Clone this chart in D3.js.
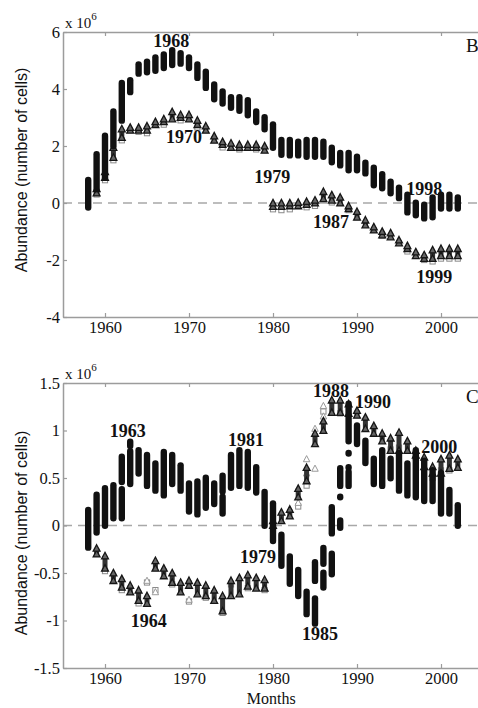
<!DOCTYPE html>
<html>
<head>
<meta charset="utf-8">
<script src="https://cdn.jsdelivr.net/npm/d3@7"></script>
<style>
  body { margin: 0; background: #fff; }
  svg { display: block; }
</style>
</head>
<body>
<div id="chart"></div>
<script>
// Panel B — vertical stacks of monthly values per year, [year, low, high] in 10^6 cells
const circlesB = [
  [1958, -0.15, 0.8], [1959, 0.5, 1.7], [1960, 0.9, 2.35], [1961, 2.0, 3.2], [1962, 2.9, 4.2],
  [1963, 3.9, 4.3], [1964, 4.55, 4.85], [1965, 4.6, 4.95], [1966, 4.65, 5.1], [1967, 4.75, 5.2],
  [1968, 4.85, 5.35], [1969, 4.9, 5.25], [1970, 4.75, 5.1], [1971, 4.4, 4.85], [1972, 4.05, 4.6],
  [1973, 3.65, 4.15], [1974, 3.5, 3.9], [1975, 3.35, 3.7], [1976, 3.25, 3.7], [1977, 3.09, 3.6],
  [1978, 2.85, 3.2], [1979, 2.6, 3.0], [1980, 1.95, 2.75], [1981, 1.7, 2.2], [1982, 1.68, 2.2],
  [1983, 1.68, 2.14], [1984, 1.63, 2.2], [1985, 1.63, 2.2], [1986, 1.63, 2.14], [1987, 1.44, 1.93],
  [1988, 1.33, 1.75], [1989, 1.16, 1.75], [1990, 1.16, 1.61], [1991, 1.05, 1.4], [1992, 0.63, 1.23],
  [1993, 0.53, 1.0], [1994, 0.35, 0.74], [1995, 0.18, 0.53], [1996, -0.32, 0.28], [1997, -0.42, 0.0],
  [1998, -0.53, -0.07], [1999, -0.49, 0.18], [2000, -0.18, 0.28], [2001, -0.18, 0.28], [2002, -0.18, 0.18]
];
const trianglesB = [
  [1959, 0.35, 0.5], [1960, 0.9, 1.1], [1961, 1.6, 1.95], [1962, 2.3, 2.6], [1963, 2.55, 2.65],
  [1964, 2.55, 2.65], [1965, 2.55, 2.7], [1966, 2.75, 2.85], [1967, 2.85, 2.95], [1968, 2.95, 3.2],
  [1969, 3.0, 3.1], [1970, 2.95, 3.1], [1971, 2.75, 2.9], [1972, 2.55, 2.7], [1973, 2.2, 2.35],
  [1974, 2.05, 2.15], [1975, 1.95, 2.1], [1976, 1.95, 2.05], [1977, 1.95, 2.05], [1978, 1.95, 2.05],
  [1979, 1.85, 2.0], [1980, -0.12, 0.0], [1981, -0.12, 0.0], [1982, -0.1, 0.0], [1983, -0.1, 0.02],
  [1984, -0.05, 0.05], [1985, 0.0, 0.1], [1986, 0.15, 0.4], [1987, 0.1, 0.28], [1988, 0.0, 0.2],
  [1989, -0.2, -0.1], [1990, -0.5, -0.3], [1991, -0.77, -0.6], [1992, -0.95, -0.84], [1993, -1.12, -1.0],
  [1994, -1.19, -1.05], [1995, -1.4, -1.3], [1996, -1.6, -1.5], [1997, -1.85, -1.72], [1998, -1.95, -1.82],
  [1999, -1.95, -1.65], [2000, -1.85, -1.6], [2001, -1.85, -1.6], [2002, -1.85, -1.6]
];
const squaresB = [
  [1959, 0.3], [1960, 0.8], [1961, 1.5], [1962, 2.2], [1964, 2.5], [1965, 2.45], [1967, 2.75],
  [1969, 2.9], [1971, 2.65], [1974, 1.95], [1976, 1.88], [1978, 1.88], [1980, -0.22], [1981, -0.25],
  [1982, -0.22], [1984, -0.15], [1985, -0.1], [1987, 0.02], [1989, -0.25], [1993, -1.15],
  [1996, -1.7], [1998, -2.0], [1999, -2.05], [2000, -1.95], [2001, -1.95], [2002, -1.95]
];
const notesB = [
  ["1968", 1967.9, 5.47], ["1970", 1969.4, 2.1], ["1979", 1979.9, 0.7],
  ["1998", 1998.0, 0.28], ["1987", 1986.9, -0.88], ["1999", 1999.2, -2.8]
];

// Panel C
const circlesC = [
  [1958, -0.23, 0.16], [1959, -0.07, 0.32], [1960, 0.0, 0.39], [1961, 0.08, 0.42],
  [1962, 0.08, 0.38], [1962, 0.46, 0.72], [1963, 0.44, 0.78], [1963, 0.84, 0.88],
  [1964, 0.55, 0.79], [1965, 0.42, 0.74], [1966, 0.37, 0.65], [1967, 0.32, 0.77],
  [1968, 0.44, 0.74], [1969, 0.37, 0.63], [1970, 0.15, 0.44], [1971, 0.12, 0.46],
  [1972, 0.19, 0.5], [1973, 0.23, 0.44], [1974, 0.13, 0.3], [1974, 0.36, 0.52],
  [1975, 0.4, 0.74], [1976, 0.42, 0.79], [1977, 0.4, 0.77], [1978, 0.35, 0.61],
  [1979, 0.0, 0.35], [1980, -0.16, 0.23], [1981, -0.42, -0.1], [1982, -0.61, -0.33],
  [1983, -0.74, -0.47], [1984, -0.93, -0.7], [1985, -1.03, -0.77], [1985, -0.58, -0.39],
  [1986, -0.65, -0.5], [1986, -0.4, -0.24], [1987, -0.51, -0.3], [1987, -0.08, 0.19],
  [1988, -0.02, 0.05], [1988, 0.3, 0.3], [1988, 0.42, 0.6], [1989, 0.42, 0.56],
  [1989, 0.61, 0.61], [1989, 0.76, 0.76], [1989, 0.89, 1.28], [1990, 0.86, 1.05],
  [1991, 0.66, 0.89], [1992, 0.44, 0.7], [1993, 0.42, 0.79], [1994, 0.5, 0.7],
  [1995, 0.37, 0.76], [1996, 0.32, 0.65], [1997, 0.3, 0.79], [1998, 0.26, 0.68],
  [1999, 0.26, 0.58], [2000, 0.13, 0.55], [2001, 0.13, 0.37], [2002, 0.0, 0.21]
];
const trianglesC = [
  [1959, -0.3, -0.24], [1960, -0.45, -0.32], [1961, -0.58, -0.5], [1962, -0.65, -0.56],
  [1963, -0.7, -0.63], [1964, -0.79, -0.68], [1965, -0.82, -0.74], [1966, -0.45, -0.37],
  [1967, -0.53, -0.45], [1968, -0.6, -0.5], [1969, -0.7, -0.6], [1970, -0.63, -0.58],
  [1971, -0.72, -0.6], [1972, -0.74, -0.63], [1973, -0.79, -0.68], [1974, -0.9, -0.74],
  [1975, -0.74, -0.58], [1976, -0.72, -0.55], [1977, -0.64, -0.52], [1978, -0.66, -0.55],
  [1979, -0.66, -0.57], [1980, 0.0, 0.05], [1981, 0.05, 0.14], [1982, 0.1, 0.17],
  [1983, 0.3, 0.39], [1984, 0.47, 0.61], [1985, 0.86, 0.97], [1986, 1.0, 1.1],
  [1987, 1.19, 1.32], [1988, 1.19, 1.32], [1989, 1.18, 1.28], [1990, 1.16, 1.21],
  [1991, 1.02, 1.14], [1992, 0.97, 1.05], [1993, 0.89, 0.97], [1994, 0.79, 0.92],
  [1995, 0.79, 0.98], [1996, 0.79, 0.89], [1997, 0.74, 0.79], [1998, 0.62, 0.72],
  [1999, 0.55, 0.62], [2000, 0.55, 0.7], [2001, 0.6, 0.74], [2002, 0.61, 0.7]
];
const squaresC = [
  [1960, -0.48], [1962, -0.68], [1964, -0.82], [1965, -0.6], [1966, -0.68], [1968, -0.62],
  [1970, -0.8], [1972, -0.76], [1974, -0.92], [1975, -0.62], [1977, -0.66], [1979, -0.68],
  [1983, 0.2], [1984, 0.42], [1986, 1.2], [1988, 1.18], [1994, 0.8], [1995, 0.82],
  [1997, 0.72], [1999, 0.5], [2000, 0.58], [2001, 0.58]
];
const openTrianglesC = [
  [1965, -0.58], [1966, -0.7], [1970, -0.78], [1983, 0.24], [1984, 0.7], [1984, 0.55],
  [1985, 1.02], [1986, 1.26], [1986, 1.15], [1985, 0.6]
];
const notesC = [
  ["1963", 1962.7, 0.93], ["1981", 1976.8, 0.84], ["1988", 1986.9, 1.35], ["1990", 1991.9, 1.24],
  ["2000", 1999.8, 0.76], ["1964", 1965.2, -1.07], ["1979", 1978.2, -0.39], ["1985", 1985.6, -1.21]
];

const xTicks = [1960, 1970, 1980, 1990, 2000];
const yTicksB = [-4, -2, 0, 2, 4, 6];
const yTicksC = [-1.5, -1, -0.5, 0, 0.5, 1, 1.5];

const W = 478, H = 708;
const serif = '"Liberation Serif", "DejaVu Serif", serif';
const sans = '"Liberation Sans", Arial, sans-serif';
const axisGrey = '#9c9c9c';

const svg = d3.select('#chart').append('svg')
  .attr('width', W)
  .attr('height', H);

const x = d3.scaleLinear().domain([1955, 2005]).range([63, 483]);

function triPath(s) {
  return `M0,${-s}L${s * 0.95},${s * 0.8}L${-s * 0.95},${s * 0.8}Z`;
}

function drawPanel(opts) {
  const y = d3.scaleLinear().domain(opts.domain).range([opts.bottom, opts.top]);
  const g = svg.append('g');

  // zero reference line
  g.append('line')
    .attr('x1', x.range()[0]).attr('x2', W)
    .attr('y1', y(0)).attr('y2', y(0))
    .attr('stroke', '#a8a8a8')
    .attr('stroke-width', 1.4)
    .attr('stroke-dasharray', '9,6');

  // axes
  const styleAxis = sel => {
    sel.select('.domain').attr('stroke', axisGrey).attr('stroke-width', 1.5);
    sel.selectAll('.tick line').attr('stroke', axisGrey).attr('stroke-width', 1.2);
    sel.selectAll('.tick text').attr('fill', '#111').style('font-family', serif).style('font-size', '16.5px');
  };

  g.append('g')
    .attr('transform', `translate(0,${opts.bottom})`)
    .call(d3.axisBottom(x).tickValues(xTicks).tickFormat(String).tickSizeInner(-4).tickSizeOuter(0).tickPadding(4))
    .call(styleAxis);

  g.append('g')
    .attr('transform', `translate(0,${opts.top})`)
    .call(d3.axisTop(x).tickValues(xTicks).tickFormat('').tickSizeInner(-4).tickSizeOuter(0))
    .call(styleAxis);

  g.append('g')
    .attr('transform', `translate(${x.range()[0]},0)`)
    .call(d3.axisLeft(y).tickValues(opts.yTicks).tickFormat(String).tickSizeInner(-4).tickSizeOuter(0).tickPadding(3))
    .call(styleAxis);

  // exponent
  const ex = g.append('text')
    .attr('x', x.range()[0] + 2)
    .attr('y', opts.top - 4)
    .style('font-family', serif)
    .style('font-size', '15px')
    .attr('fill', '#111');
  ex.append('tspan').text('x 10');
  ex.append('tspan').attr('dy', -8).style('font-size', '11px').text('6');

  // y label
  g.append('text')
    .attr('transform', `translate(27,${opts.labelY}) rotate(-90)`)
    .attr('text-anchor', 'middle')
    .style('font-family', sans)
    .style('font-size', '16px')
    .attr('fill', '#111')
    .text('Abundance (number of cells)');

  // panel letter
  g.append('text')
    .attr('x', 466)
    .attr('y', opts.top + 20)
    .style('font-family', serif)
    .style('font-size', '19px')
    .attr('fill', '#111')
    .text(opts.letter);

  // grey open squares
  g.append('g').selectAll('rect')
    .data(opts.squares)
    .join('rect')
    .attr('x', d => x(d[0]) - 2.6)
    .attr('y', d => y(d[1]) - 2.6)
    .attr('width', 5.2)
    .attr('height', 5.2)
    .attr('fill', 'none')
    .attr('stroke', '#8a8a8a')
    .attr('stroke-width', 1);

  // light open triangles
  g.append('g').selectAll('path')
    .data(opts.openTri || [])
    .join('path')
    .attr('transform', d => `translate(${x(d[0])},${y(d[1])})`)
    .attr('d', triPath(3.4))
    .attr('fill', '#fff')
    .attr('stroke', '#9a9a9a')
    .attr('stroke-width', 1);

  // triangle stacks
  const tri = g.append('g');
  tri.selectAll('rect')
    .data(opts.triangles)
    .join('rect')
    .attr('x', d => x(d[0]) - 2.5)
    .attr('y', d => y(d[2]))
    .attr('width', 5)
    .attr('height', d => Math.max(0, y(d[1]) - y(d[2])))
    .attr('fill', '#333');
  tri.selectAll('path')
    .data(opts.triangles.flatMap(d => [[d[0], d[1]], [d[0], d[2]]]))
    .join('path')
    .attr('transform', d => `translate(${x(d[0])},${y(d[1])})`)
    .attr('d', triPath(3.6))
    .attr('fill', '#666')
    .attr('stroke', '#161616')
    .attr('stroke-width', 1.3);

  // filled circle stacks
  g.append('g').selectAll('rect')
    .data(opts.circles)
    .join('rect')
    .attr('x', d => x(d[0]) - 3.2)
    .attr('y', d => y(d[2]) - 3.5)
    .attr('width', 6.4)
    .attr('height', d => y(d[1]) - y(d[2]) + 7)
    .attr('rx', 3.2)
    .attr('fill', '#111');

  // year annotations
  g.append('g').selectAll('text')
    .data(opts.notes)
    .join('text')
    .attr('x', d => x(d[1]))
    .attr('y', d => y(d[2]))
    .attr('text-anchor', 'middle')
    .style('font-family', serif)
    .style('font-size', '18px')
    .style('font-weight', 'bold')
    .attr('fill', '#111')
    .text(d => d[0]);

  return y;
}

drawPanel({
  domain: [-4, 6], top: 32, bottom: 317, yTicks: yTicksB, labelY: 170, letter: 'B',
  circles: circlesB, triangles: trianglesB, squares: squaresB, notes: notesB
});

drawPanel({
  domain: [-1.5, 1.5], top: 383, bottom: 668, yTicks: yTicksC, labelY: 533, letter: 'C',
  circles: circlesC, triangles: trianglesC, squares: squaresC, openTri: openTrianglesC, notes: notesC
});

svg.append('text')
  .attr('x', x(1979.8))
  .attr('y', 703.5)
  .attr('text-anchor', 'middle')
  .style('font-family', serif)
  .style('font-size', '16px')
  .attr('fill', '#111')
  .text('Months');
</script>
</body>
</html>
